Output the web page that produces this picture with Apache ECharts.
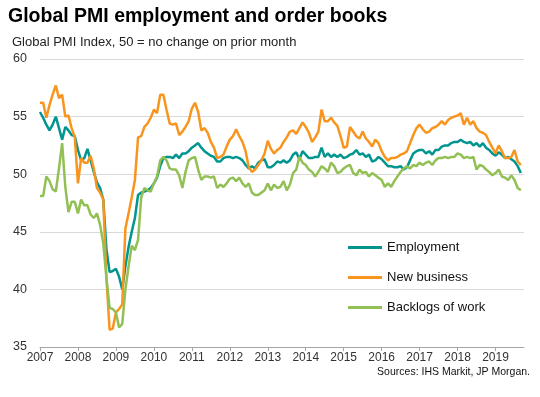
<!DOCTYPE html>
<html>
<head>
<meta charset="utf-8">
<script src="https://cdn.jsdelivr.net/npm/echarts@6/dist/echarts.min.js"></script>
<style>
  html, body { margin: 0; padding: 0; background: #fff; }
  #chart { width: 540px; height: 397px; }
</style>
</head>
<body>
<div id="chart"></div>
<script>
// monthly readings, Jan 2007 - Sep 2019
var employment = [
    55.4, 54.9, 54.3, 53.8, 54.3, 55.0, 54.0, 53.0, 54.1, 53.8, 53.4, 53.3,
    52.1, 51.2, 51.4, 52.2, 51.2, 50.2, 49.3, 48.8, 47.8, 43.5, 41.5, 41.6,
    41.8, 41.1, 40.0, 42.0, 43.7, 45.0, 46.2, 48.2, 48.4, 48.5, 48.6, 48.8,
    49.2, 49.7, 50.7, 51.4, 51.5, 51.5, 51.4, 51.7, 51.4, 51.8, 51.8, 52.0,
    52.3, 52.5, 52.7, 52.3, 52.0, 51.8, 51.6, 51.5, 51.1, 51.1, 51.4, 51.5,
    51.5, 51.4, 51.5, 51.4, 51.2, 50.8, 50.5, 50.7, 50.5, 51.0, 51.2, 51.3,
    50.6, 50.6, 50.8, 51.1, 51.0, 51.2, 51.0, 51.2, 51.7, 51.9, 51.3, 52.0,
    51.7, 51.4, 51.4, 51.5, 51.5, 52.3, 51.5, 51.8, 51.5, 51.7, 51.5, 51.7,
    51.4, 51.5, 51.7, 51.8, 52.1, 51.7, 51.8, 51.5, 51.7, 51.1, 51.2, 51.5,
    51.3, 51.0, 50.7, 50.7, 50.6, 50.6, 50.7, 50.4, 50.6, 51.2, 51.8, 52.0,
    52.1, 52.1, 51.8, 52.0, 51.7, 52.1, 52.1, 52.4, 52.5, 52.5, 52.7, 52.8,
    52.8, 53.0, 52.8, 52.7, 52.8, 52.5, 52.7, 52.4, 52.7, 52.3, 52.1, 51.8,
    51.6, 51.9, 51.7, 51.4, 51.5, 51.3, 51.1, 50.7, 50.1
];
var newBusiness = [
    56.2, 56.2, 54.9, 56.0, 56.9, 57.7, 56.6, 56.9, 55.0, 55.1, 54.0, 53.2,
    49.2, 51.4, 51.0, 51.0, 51.6, 50.5, 48.8, 48.4, 47.8, 41.0, 36.5, 36.6,
    38.0, 38.3, 38.7, 45.3, 46.6, 48.0, 49.5, 53.2, 53.3, 54.1, 54.4, 54.9,
    55.6, 55.3, 56.9, 56.9, 55.6, 54.4, 54.3, 54.4, 53.4, 53.7, 54.1, 54.6,
    55.7, 56.2, 55.4, 53.8, 54.0, 53.6, 52.8, 52.3, 51.4, 51.5, 51.7, 52.4,
    53.0, 53.3, 53.9, 53.3, 52.8, 52.0, 50.6, 50.2, 50.4, 50.8, 51.2, 51.8,
    52.9, 52.2, 51.8, 52.1, 52.3, 52.8, 53.2, 53.7, 53.8, 53.5, 54.0, 54.5,
    54.1, 53.6, 52.8, 53.2, 53.7, 55.6, 54.6, 54.6, 54.9, 54.5, 54.2, 53.3,
    52.3, 52.4, 54.1, 53.7, 53.3, 53.1, 53.7, 53.1, 52.8, 52.4, 53.0, 52.7,
    52.0, 51.5, 51.2, 51.4, 51.4, 51.5, 51.7, 51.8, 52.0, 52.7, 53.4, 54.0,
    54.3, 53.9, 53.6, 53.7, 54.0, 54.1, 54.3, 54.6, 54.3, 54.7, 54.9, 55.0,
    55.1, 55.3, 54.3, 54.9, 54.3, 54.6, 54.0, 53.7, 53.6, 53.4, 52.8, 52.3,
    51.8, 52.5, 52.0, 51.4, 51.4, 51.5, 52.1, 51.1, 50.8
];
var backlogs = [
    48.1, 48.1, 49.8, 49.4, 48.7, 48.5, 50.5, 52.7, 48.9, 46.7, 47.6, 47.6,
    46.6, 47.8, 47.3, 47.3, 46.5, 46.2, 46.6, 45.6, 44.0, 41.0, 38.4, 38.3,
    38.0, 36.7, 37.0, 40.0, 42.0, 43.8, 43.4, 44.3, 48.0, 48.8, 48.6, 48.5,
    49.2, 49.8, 51.2, 51.5, 51.2, 50.5, 50.4, 50.4, 49.9, 48.8, 50.2, 51.2,
    51.4, 51.5, 50.4, 49.5, 49.8, 49.8, 49.7, 49.8, 48.8, 49.1, 48.9, 49.2,
    49.6, 49.7, 49.4, 49.7, 49.2, 48.9, 49.2, 48.4, 48.2, 48.2, 48.4, 48.6,
    49.2, 48.6, 49.1, 48.8, 48.9, 49.4, 48.6, 49.1, 50.1, 50.4, 51.5, 51.0,
    50.8, 50.4, 50.2, 49.8, 50.2, 50.7, 50.5, 50.2, 51.0, 50.7, 50.1, 50.2,
    50.5, 50.7, 50.8, 50.1, 49.9, 50.4, 50.1, 50.2, 49.8, 50.1, 49.9, 49.7,
    49.5, 48.9, 49.2, 48.9, 49.4, 49.8, 50.2, 50.5, 50.7, 50.5, 50.8, 50.7,
    51.0, 50.8, 51.0, 51.1, 50.8, 51.2, 51.4, 51.4, 51.5, 51.4, 51.5, 51.5,
    51.8, 51.7, 51.4, 51.5, 51.4, 51.5, 50.4, 50.8, 50.7, 50.4, 50.2, 49.9,
    50.1, 50.4, 49.8, 49.7, 49.5, 49.9, 49.5, 48.8, 48.6
];
var seriesNames = ['Employment', 'New business', 'Backlogs of work'];
var seriesColors = ['#00968f', '#f7951e', '#92c054'];

// axis runs Jan 2007 .. Oct 2019, one category per month
var months = [];
for (var y = 2007; y <= 2019; y++) {
    for (var m = 1; m <= 12; m++) {
        if (y === 2019 && m > 10) break;
        months.push(y + '-' + (m < 10 ? '0' + m : m));
    }
}

var font = 'Liberation Sans, Arial, sans-serif';
var yearOnly = function (idx) { return idx % 12 === 0; };

var myChart = echarts.init(document.getElementById('chart'));

var option = {
    animation: false,
    backgroundColor: '#fff',
    title: [{
        text: 'Global PMI employment and order books',
        left: 8, top: 7, padding: 0,
        textStyle: { fontFamily: font, fontSize: 19.5, fontWeight: 'bold', color: '#000' }
    }, {
        text: 'Global PMI Index, 50 = no change on prior month',
        left: 12, top: 36, padding: 0,
        textStyle: { fontFamily: font, fontSize: 13, fontWeight: 'normal', color: '#222' }
    }, {
        text: 'Sources: IHS Markit, JP Morgan.',
        right: 10, top: 367, padding: 0,
        textStyle: { fontFamily: font, fontSize: 10.5, fontWeight: 'normal', color: '#111' }
    }],
    legend: {
        data: seriesNames,
        orient: 'vertical',
        left: 348, top: 241,
        padding: 0,
        icon: 'rect',
        itemWidth: 34,
        itemHeight: 3,
        itemGap: 17,
        textStyle: { fontFamily: font, fontSize: 13, color: '#111' }
    },
    grid: { left: 40, right: 16, top: 59, bottom: 50 },
    xAxis: {
        type: 'category',
        data: months,
        boundaryGap: false,
        axisLine: { show: true, lineStyle: { color: '#a6a6a6', width: 1 } },
        axisTick: { show: true, length: 4, interval: yearOnly, lineStyle: { color: '#a6a6a6' } },
        axisLabel: {
            interval: yearOnly,
            margin: 5,
            fontFamily: font, fontSize: 12, color: '#333',
            formatter: function (v) { return v.slice(0, 4); }
        },
        splitLine: { show: false }
    },
    yAxis: {
        type: 'value',
        min: 35, max: 60, interval: 5,
        axisLine: { show: false },
        axisTick: { show: false },
        axisLabel: { margin: 13, fontFamily: font, fontSize: 12.5, color: '#333' },
        splitLine: { show: true, lineStyle: { color: '#d9d9d9', width: 1 } }
    },
    series: [employment, newBusiness, backlogs].map(function (d, i) {
        return {
            name: seriesNames[i],
            type: 'line',
            data: d,
            symbol: 'none',
            color: seriesColors[i],
            lineStyle: { width: 2.5, color: seriesColors[i] }
        };
    })
};

myChart.setOption(option);
</script>
</body>
</html>
